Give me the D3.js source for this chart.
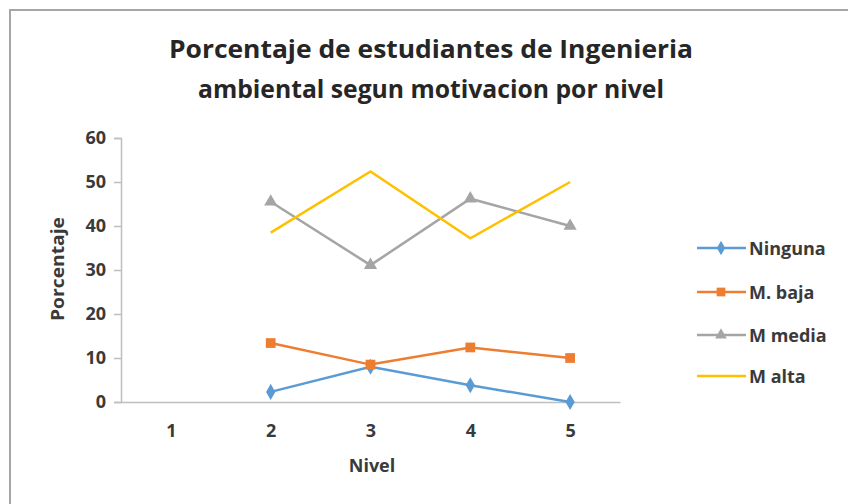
<!DOCTYPE html>
<html>
<head>
<meta charset="utf-8">
<script src="https://cdn.jsdelivr.net/npm/d3@7"></script>
<style>
  body { margin: 0; background: #fff; }
  text { font-family: "Open Sans", "Noto Sans", sans-serif; fill: #3a3a3a; }
</style>
</head>
<body>
<svg width="848" height="504"></svg>
<script>
// data
var niveles = ["1", "2", "3", "4", "5"];
var ninguna = [null, 2.3, 8.0, 3.8, 0];
var mBaja = [null, 13.4, 8.5, 12.4, 10];
var mMedia = [null, 45.5, 31.1, 46.2, 40];
var mAlta = [null, 38.5, 52.4, 37.2, 50];
var yTicks = [0, 10, 20, 30, 40, 50, 60];
var seriesNames = ["Ninguna", "M. baja", "M media", "M alta"];

var series = [
  {name: seriesNames[0], values: ninguna, color: "#5b9bd5", symbol: d3.symbolDiamond, size: 75},
  {name: seriesNames[1], values: mBaja, color: "#ed7d31", symbol: d3.symbolSquare, size: 95},
  {name: seriesNames[2], values: mMedia, color: "#a5a5a5", symbol: d3.symbolTriangle, size: 75},
  {name: seriesNames[3], values: mAlta, color: "#ffc000", symbol: null, size: 0}
];

var margin = {top: 138, left: 121},
    plotWidth = 499,
    plotHeight = 264;

var svg = d3.select("svg");

// outer border (only top/left visible in the picture)
svg.append("path")
  .attr("d", "M10,504 V10 H848")
  .attr("fill", "none")
  .attr("stroke", "#a6a6a6")
  .attr("stroke-width", 2);

// title
var title = svg.append("text")
  .attr("text-anchor", "middle")
  .style("font-size", "25px")
  .style("font-weight", "bold")
  .style("fill", "#262626");
title.append("tspan").attr("x", 431).attr("y", 58)
  .attr("textLength", 524).attr("lengthAdjust", "spacingAndGlyphs")
  .text("Porcentaje de estudiantes de Ingenieria");
title.append("tspan").attr("x", 431).attr("y", 98)
  .attr("textLength", 466).attr("lengthAdjust", "spacingAndGlyphs")
  .text("ambiental segun motivacion por nivel");

var g = svg.append("g")
  .attr("transform", "translate(" + margin.left + "," + margin.top + ")");

var xScale = d3.scalePoint()
  .domain(niveles)
  .range([0, plotWidth])
  .padding(0.5);

var yScale = d3.scaleLinear()
  .domain([0, 60])
  .range([plotHeight, 0]);

// y axis
var yAxis = d3.axisLeft(yScale).tickValues(yTicks).tickSize(7).tickPadding(8);
var yG = g.append("g").call(yAxis);
yG.select(".domain").attr("stroke", "#bfbfbf").attr("stroke-width", 1.5);
yG.selectAll(".tick line").attr("stroke", "#bfbfbf").attr("stroke-width", 1.5);
yG.selectAll(".tick text")
  .style("font-size", "18px").style("font-weight", "bold").style("fill", "#3a3a3a")
  .attr("font-family", null);

// x axis
var xAxis = d3.axisBottom(xScale).tickSize(0).tickPadding(22);
var xG = g.append("g")
  .attr("transform", "translate(0," + plotHeight + ")")
  .call(xAxis);
xG.select(".domain").attr("stroke", "#bfbfbf").attr("stroke-width", 1.5);
xG.selectAll(".tick text")
  .style("font-size", "18px").style("font-weight", "bold").style("fill", "#3a3a3a")
  .attr("font-family", null);

// axis titles
svg.append("text")
  .attr("x", 372).attr("y", 472)
  .attr("text-anchor", "middle")
  .style("font-size", "18px").style("font-weight", "bold")
  .text("Nivel");

svg.append("text")
  .attr("transform", "translate(64,269) rotate(-90)")
  .attr("text-anchor", "middle")
  .attr("textLength", 104).attr("lengthAdjust", "spacingAndGlyphs")
  .style("font-size", "18px").style("font-weight", "bold")
  .text("Porcentaje");

// lines
var line = d3.line()
  .defined(function(d) { return d != null; })
  .x(function(d, i) { return xScale(niveles[i]); })
  .y(function(d) { return yScale(d); });

series.forEach(function(s) {
  g.append("path")
    .datum(s.values)
    .attr("fill", "none")
    .attr("stroke", s.color)
    .attr("stroke-width", 2.5)
    .attr("d", line);

  if (s.symbol) {
    g.append("g")
      .selectAll("path")
      .data(s.values.map(function(v, i) { return {v: v, i: i}; })
        .filter(function(d) { return d.v != null; }))
      .enter()
      .append("path")
      .attr("transform", function(d) {
        return "translate(" + xScale(niveles[d.i]) + "," + yScale(d.v) + ")";
      })
      .attr("d", d3.symbol().type(s.symbol).size(s.size))
      .attr("fill", s.color);
  }
});

// legend
var legend = svg.append("g");
var legendY = [248, 292, 335, 376];
series.forEach(function(s, i) {
  var row = legend.append("g").attr("transform", "translate(0," + legendY[i] + ")");
  row.append("line")
    .attr("x1", 697).attr("x2", 746)
    .attr("stroke", s.color).attr("stroke-width", 2.5);
  if (s.symbol) {
    row.append("path")
      .attr("transform", "translate(721,0)")
      .attr("d", d3.symbol().type(s.symbol).size(s.size * 0.8))
      .attr("fill", s.color);
  }
  row.append("text")
    .attr("x", 749).attr("y", 6.5)
    .style("font-size", "18px").style("font-weight", "bold")
    .text(s.name);
});
</script>
</body>
</html>
